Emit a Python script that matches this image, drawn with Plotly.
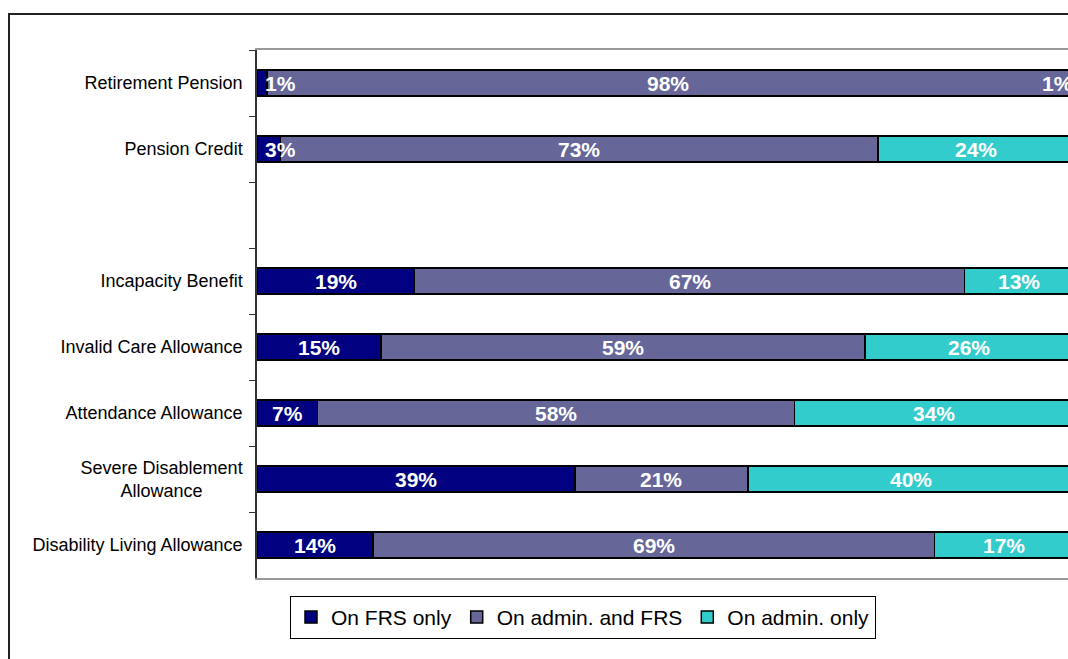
import plotly.graph_objects as go

# ---- data ----
categories = [
    "Retirement Pension",
    "Pension Credit",
    " ",
    "Incapacity Benefit",
    "Invalid Care Allowance",
    "Attendance Allowance",
    "Severe Disablement<br>Allowance" + "\u00a0" * 8,
    "Disability Living Allowance",
]
frs_only = [1.2, 2.9, None, 19.3, 15.2, 7.4, 38.9, 14.2]
admin_and_frs = [98.2, 73.1, None, 67.3, 59.2, 58.4, 21.2, 68.7]
admin_only = [0.6, 24.0, None, 13.4, 25.6, 34.2, 39.9, 17.1]

series_names = ["On FRS only", "On admin. and FRS", "On admin. only"]
series_values = [frs_only, admin_and_frs, admin_only]
series_colors = ["#000080", "#666699", "#33CCCC"]

FONT = "Liberation Sans, Arial, sans-serif"

fig = go.Figure()
for name, vals, col in zip(series_names, series_values, series_colors):
    fig.add_trace(go.Bar(
        y=categories, x=vals, name=name, orientation="h",
        marker=dict(color=col, line=dict(color="#000000", width=1.5)),
        width=0.4, hoverinfo="skip",
    ))

# value labels, centred in each segment (kept inside the visible plot area)
annotations = []
for i, cat in enumerate(categories):
    cum = 0.0
    for vals in series_values:
        v = vals[i]
        if v is None:
            continue
        centre = cum + v / 2.0
        cum += v
        xpos = min(max(centre, 2.9), 98.0)
        annotations.append(dict(
            x=xpos, y=cat, xref="x", yref="y", text=f"{round(v)}%",
            showarrow=False, xanchor="center", yanchor="middle",
            font=dict(family=FONT, size=21, color="white", weight="bold"),
        ))

fig.update_layout(
    width=1068, height=659,
    margin=dict(l=257, r=0, t=50, b=81),
    barmode="stack",
    paper_bgcolor="white", plot_bgcolor="white",
    font=dict(family=FONT, color="black"),
    annotations=annotations,
    showlegend=True,
    legend=dict(
        orientation="h", x=0.0407, xanchor="left", y=-0.034, yanchor="top",
        font=dict(family=FONT, size=21, color="black"),
        bordercolor="black", borderwidth=1, bgcolor="white",
        traceorder="normal", itemwidth=30,
    ),
    shapes=[dict(
        type="rect", xref="paper", yref="paper",
        x0=-0.3058, x1=1.1, y0=-0.2, y1=1.068,
        line=dict(color="#222222", width=2), fillcolor="rgba(0,0,0,0)",
        layer="below",
    )],
)
fig.update_xaxes(
    range=[0, 99.27], showticklabels=False, ticks="", showgrid=False,
    zeroline=False, showline=True, mirror=True, linecolor="#999999", linewidth=2,
)
fig.update_yaxes(
    type="category", categoryorder="array", categoryarray=categories,
    range=[len(categories) - 0.5, -0.5],
    showgrid=False, zeroline=False, showline=True, linecolor="#333333", linewidth=1.5,
    ticks="outside", tickson="boundaries", ticklen=6, tickwidth=1, tickcolor="#333333",
    ticklabelstandoff=9,
    tickfont=dict(family=FONT, size=18, color="black"),
)

fig.write_html(
    "out.html",
    config={"displayModeBar": False},
    post_script="document.body.style.margin='0px';document.body.style.overflow='hidden';",
)
